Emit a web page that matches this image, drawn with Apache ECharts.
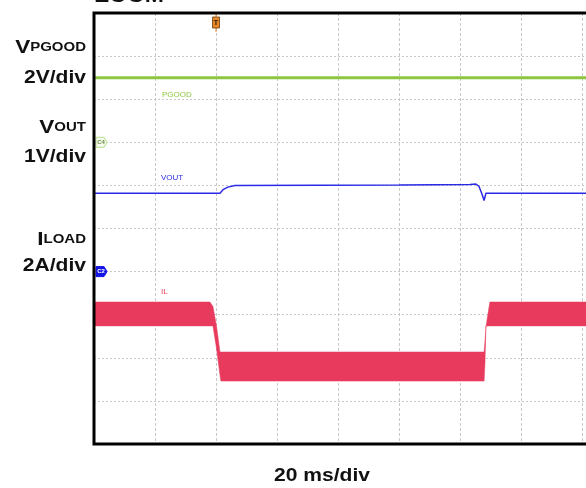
<!DOCTYPE html>
<html>
<head>
    <meta charset="utf-8">
    <title>PGOOD / VOUT / ILOAD</title>
    <style>
        body { margin: 0; padding: 0; background: #fff; }
        #chart { width: 586px; height: 488px; }
    </style>
</head>
<body>
    <script src="https://cdn.jsdelivr.net/npm/echarts@6.0.0/dist/echarts.min.js"></script>
    <div id="chart"></div>
    <script>
        // time in ms (20 ms/div, 10 div on screen)
        const pgoodTime = [0, 200];
        const pgoodVolts = [3.0, 3.0];

        const voutTime = [0, 41.3, 42.3, 43.9, 46.2, 100, 123.3, 125.2, 126.2, 127.2, 127.9, 128.5, 200];
        const voutVolts = [1.82, 1.82, 1.9, 1.96, 2.0, 2.01, 2.02, 2.03, 1.98, 1.8, 1.65, 1.82, 1.82];

        // inductor current band: top and bottom of ripple envelope (A)
        const ilTime = [0, 38.0, 39.0, 40.2, 41.3, 41.6, 127.9, 128.2, 128.5, 128.9, 129.8, 200];
        const ilTop = [0.59, 0.59, 0.38, -0.56, -1.73, -1.73, -1.73, -1.2, -0.6, -0.2, 0.59, 0.59];
        const ilBottom = [-0.52, -0.52, -0.52, -1.6, -2.8, -3.08, -3.08, -2.2, -0.52, -0.52, -0.52, -0.52];

        const triggerTime = 40;

        const chart = echarts.init(document.getElementById('chart'));

        const pair = (xs, ys) => xs.map((x, i) => [x, ys[i]]);

        const hiddenY = (min, max) => ({
            type: 'value', min: min, max: max, show: false
        });

        // ripple envelope drawn as one filled polygon: top edge then bottom edge reversed
        function renderBand(params, api) {
            const pts = [];
            for (let i = 0; i < ilTime.length; i++) pts.push(api.coord([ilTime[i], ilTop[i]]));
            for (let i = ilTime.length - 1; i >= 0; i--) pts.push(api.coord([ilTime[i], ilBottom[i]]));
            return {
                type: 'polygon',
                shape: { points: pts },
                style: { fill: '#e83a5c', stroke: '#e83a5c', lineWidth: 0.5 }
            };
        }

        chart.setOption({
            animation: false,
            grid: {
                left: 94, top: 13, width: 610, height: 431, outerBoundsMode: 'none', containLabel: false,
                show: false
            },
            xAxis: {
                type: 'value', min: 0, max: 200, interval: 20,
                axisLine: { show: false }, axisTick: { show: false }, axisLabel: { show: false },
                splitLine: { show: true, lineStyle: { color: '#c8c8c8', type: [3, 2], width: 1 } }
            },
            yAxis: [
                hiddenY(-14, 6),   // PGOOD 2V/div
                {
                    type: 'value', min: -4, max: 6, interval: 1,   // VOUT 1V/div
                    axisLine: { show: false }, axisTick: { show: false }, axisLabel: { show: false },
                    splitLine: { show: true, lineStyle: { color: '#c8c8c8', type: [2, 2], width: 1 } }
                },
                hiddenY(-6, 14)    // IL 2A/div
            ],
            series: [
                {
                    name: 'IL', type: 'custom', yAxisIndex: 2,
                    data: [[0, 0]], renderItem: renderBand, silent: true
                },
                {
                    name: 'VOUT', type: 'line', yAxisIndex: 1, data: pair(voutTime, voutVolts),
                    showSymbol: false, lineStyle: { color: '#2a2ae6', width: 1.5 }
                },
                {
                    name: 'PGOOD', type: 'line', yAxisIndex: 0, data: pair(pgoodTime, pgoodVolts),
                    showSymbol: false, lineStyle: { color: '#8dc63f', width: 3 }
                }
            ]
        });

        // frame, channel ground markers and trigger tag, placed through the axes
        const gPg = chart.convertToPixel({ yAxisIndex: 0 }, 0);
        const gVo = chart.convertToPixel({ yAxisIndex: 1 }, 0);
        const gIl = chart.convertToPixel({ yAxisIndex: 2 }, 0);
        const tx = chart.convertToPixel({ xAxisIndex: 0 }, triggerTime);
        const fx0 = chart.convertToPixel({ xAxisIndex: 0 }, 0);
        const fx1 = chart.convertToPixel({ xAxisIndex: 0 }, 200);
        const fy0 = chart.convertToPixel({ yAxisIndex: 1 }, 6);
        const fy1 = chart.convertToPixel({ yAxisIndex: 1 }, -4);

        function tag(y, fill, stroke, label, labelColor) {
            return {
                type: 'group', x: 96, y: y, z: 100,
                children: [
                    { type: 'polygon', shape: { points: [[0, -5], [8, -5], [11, 0], [8, 5], [0, 5]] },
                      style: { fill: fill, stroke: stroke, lineWidth: 1 } },
                    { type: 'text', x: 5, y: 0,
                      style: { text: label, fill: labelColor, font: 'bold 6px Arial', align: 'center', verticalAlign: 'middle' } }
                ]
            };
        }

        const labelRich = {
            big: { fontSize: 18, fontWeight: 'bold', fontFamily: 'Liberation Sans, Arial', fill: '#111' },
            small: { fontSize: 12, fontWeight: 'bold', fontFamily: 'Liberation Sans, Arial', fill: '#111' }
        };
        function sideLabel(y, rich) {
            return { type: 'text', x: 86, y: y, scaleX: 1.25,
                     style: { text: rich, rich: labelRich, align: 'right', verticalAlign: 'middle' } };
        }
        function plainLabel(y, text) {
            return { type: 'text', x: 86, y: y, scaleX: 1.17,
                     style: { text: text, font: 'bold 18px "Liberation Sans", Arial', fill: '#111', align: 'right', verticalAlign: 'middle' } };
        }
        function traceLabel(x, y, text, color) {
            return { type: 'text', x: x, y: y,
                     style: { text: text, font: '8px Arial', fill: color, verticalAlign: 'middle' } };
        }

        chart.setOption({
            graphic: [
                { type: 'rect', z: 90, silent: true,
                  shape: { x: fx0, y: fy0, width: fx1 - fx0, height: fy1 - fy0 },
                  style: { fill: 'none', stroke: '#000', lineWidth: 3 } },
                { type: 'text', x: 95, y: 6, scaleX: 1.15,
                  style: { text: 'ZOOM', font: 'bold 20px "Liberation Sans", Arial', fill: '#111', verticalAlign: 'bottom' } },
                sideLabel(48, '{big|V}{small|PGOOD}'),
                plainLabel(78, '2V/div'),
                sideLabel(128, '{big|V}{small|OUT}'),
                plainLabel(157, '1V/div'),
                sideLabel(240, '{big|I}{small|LOAD}'),
                plainLabel(266, '2A/div'),
                { type: 'text', x: 322, y: 476, scaleX: 1.17,
                  style: { text: '20 ms/div', font: 'bold 18px "Liberation Sans", Arial', fill: '#111', align: 'center', verticalAlign: 'middle' } },
                traceLabel(162, 95, 'PGOOD', '#8dc63f'),
                traceLabel(161, 178, 'VOUT', '#2a2ae6'),
                traceLabel(161, 292, 'IL', '#e83a5c'),
                tag(gPg, '#f6fbef', '#b8df8c', 'C4', '#6a8a40'),
                tag(gVo, '#1414e6', '#1414e6', 'C2', '#fff'),
                tag(gIl, '#f6a8ba', '#f6a8ba', 'C3', '#fff'),
                {
                    type: 'group', x: tx, y: 14, z: 100,
                    children: [
                        { type: 'line', shape: { x1: 0, y1: 0, x2: 0, y2: 18 }, style: { stroke: '#e8882a', lineWidth: 1 } },
                        { type: 'rect', shape: { x: -3.5, y: 3, width: 7, height: 11 },
                          style: { fill: '#e8882a', stroke: '#6a3a10', lineWidth: 0.8 } },
                        { type: 'text', x: 0, y: 8.5,
                          style: { text: 'T', font: 'bold 8px Arial', fill: '#3a2200', align: 'center', verticalAlign: 'middle' } }
                    ]
                }
            ]
        });
    </script>
</body>
</html>
